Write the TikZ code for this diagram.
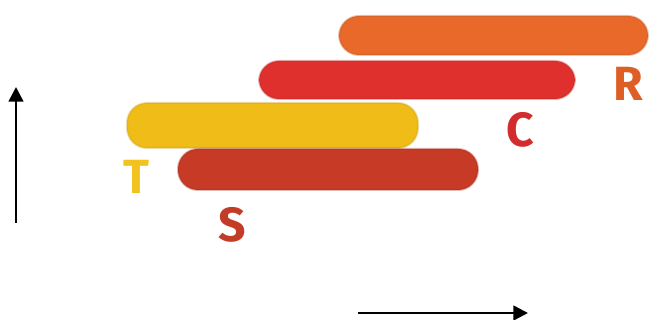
\documentclass[tikz,border=0pt]{standalone}
\usepackage{fontspec}
\setmainfont{Fira Sans}
\usetikzlibrary{arrows.meta}
\definecolor{cR}{HTML}{E8692A}
\definecolor{cC}{HTML}{E0302E}
\definecolor{cT}{HTML}{F0BC18}
\definecolor{cS}{HTML}{C63A26}
\definecolor{lR}{HTML}{DE5F26}
\definecolor{lC}{HTML}{D22C2E}
\definecolor{lT}{HTML}{F2C21E}
\definecolor{lS}{HTML}{C23C28}
\tikzset{
  bar/.style={draw=#1!85!black, draw opacity=0.35, line width=1.5pt, fill=#1, rounded corners=15pt},
  lbl/.style={font=\fontsize{36}{36}\selectfont\bfseries, text=#1, inner sep=0pt},
  axis/.style={line width=1.9pt, -{Triangle[length=11pt,width=11pt]}}
}
\begin{document}
\begin{tikzpicture}[x=0.75pt,y=-0.75pt]
\useasboundingbox (0,0) rectangle (651,320);
\fill[white] (0,0) rectangle (651,320);
% bars
\path[bar=cR] (339,16) rectangle (648,55);
\path[bar=cC] (259,61) rectangle (575,99);
\path[bar=cT] (127,103) rectangle (418,148);
\path[bar=cS] (178,149) rectangle (478,190);
% labels
\node[lbl=lR] (R) at (628,84) {R};
\node[lbl=lC] (C) at (520,130) {C};
\node[lbl=lT] (T) at (136,177) {T};
\node[lbl=lS] (S) at (232,225) {S};
% axes
\coordinate (v0) at (16,223);
\coordinate (v1) at (16,87);
\coordinate (h0) at (358,313);
\coordinate (h1) at (528,313);
\draw[axis] (v0) -- (v1);
\draw[axis] (h0) -- (h1);
\end{tikzpicture}
\end{document}
